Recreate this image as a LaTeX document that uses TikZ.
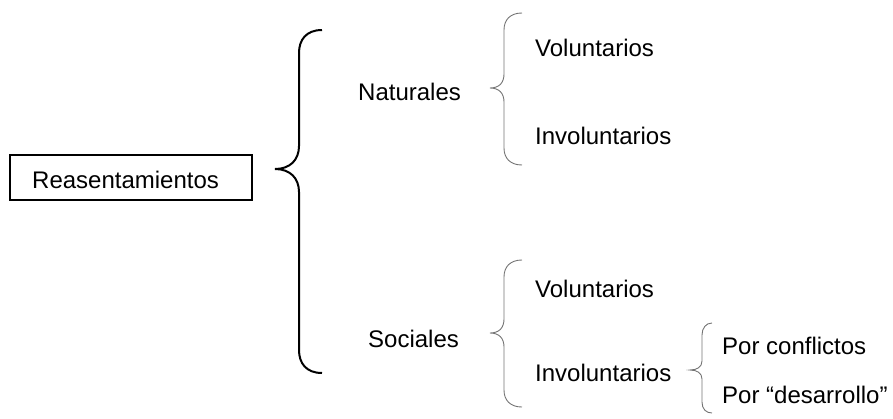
\documentclass[tikz,border=0pt]{standalone}
\usepackage{fontspec}
\setmainfont{Liberation Sans}
\begin{document}
\begin{tikzpicture}[x=1pt,y=-1pt,
  lbl/.style={inner sep=0pt,anchor=base west,font=\fontsize{24}{28}\selectfont},
  bigbrace/.style={line width=2pt,black},
  smallbrace/.style={line width=0.9pt,black!55}]
\useasboundingbox (0,0) rectangle (893,418);
% root box
\node[lbl,anchor=center,draw,line width=1.3pt,minimum width=242pt,minimum height=45pt,inner sep=0pt] (root) at (131,177.5) {};
\node[lbl] (roott) at (32,188) {Reasentamientos};
% big brace
\draw[bigbrace] (322,30) .. controls (306,30) and (299,40) .. (299,53)
  -- (299,146) .. controls (299,160) and (290,169) .. (275,169)
  .. controls (290,169) and (299,178) .. (299,192)
  -- (299,350) .. controls (299,363) and (306,373) .. (322,373);
% level 1
\node[lbl] (nat) at (358,100) {Naturales};
\node[lbl] (soc) at (368,347) {Sociales};
% brace naturales
\draw[smallbrace] (522,13) .. controls (510,13) and (504,20) .. (504,30)
  -- (504,74) .. controls (504,83) and (499,88) .. (490,88)
  .. controls (499,88) and (504,93) .. (504,102)
  -- (504,148) .. controls (504,158) and (510,165) .. (522,165);
\node[lbl] (nv) at (535,56) {Voluntarios};
\node[lbl] (ni) at (535,144) {Involuntarios};
% brace sociales
\draw[smallbrace] (522,260) .. controls (510,260) and (504,267) .. (504,277)
  -- (504,319) .. controls (504,328) and (499,333) .. (490,333)
  .. controls (499,333) and (504,338) .. (504,347)
  -- (504,390) .. controls (504,400) and (510,407) .. (522,407);
\node[lbl] (sv) at (535,297) {Voluntarios};
\node[lbl] (si) at (535,381) {Involuntarios};
% brace involuntarios sociales
\draw[smallbrace] (712,323) .. controls (706,323) and (702,328) .. (702,335)
  -- (702,361) .. controls (702,367) and (697,370) .. (690,370)
  .. controls (697,370) and (702,373) .. (702,379)
  -- (702,402) .. controls (702,409) and (706,413) .. (712,413);
\node[lbl] (pc) at (722,354) {Por conflictos};
\node[lbl] (pd) at (722,403) {Por “desarrollo”};
\end{tikzpicture}
\end{document}
